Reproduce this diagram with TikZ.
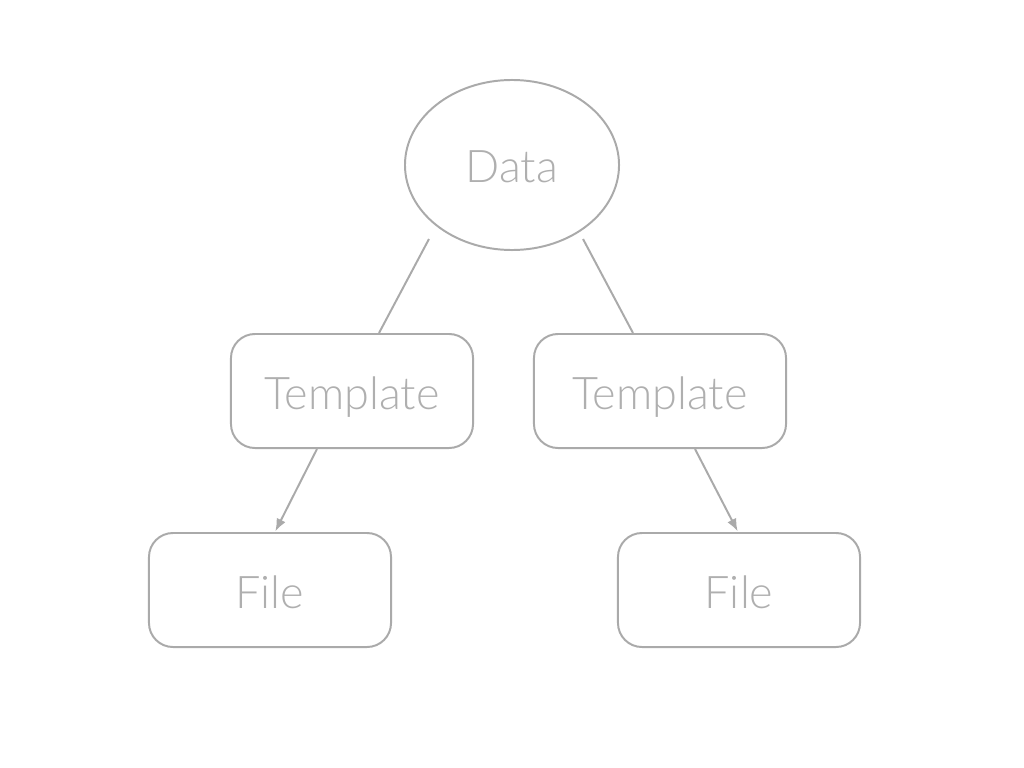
\documentclass[tikz,border=0pt]{standalone}
\usepackage{fontspec}
\setmainfont{Lato}[UprightFont={* Light}]
\usepackage{tikz}
\usepackage{xcolor}
\usetikzlibrary{shapes, positioning, arrows.meta}

\definecolor{linegray}{RGB}{170,170,170}
\definecolor{textgray}{RGB}{175,175,175}

\begin{document}
\begin{tikzpicture}[x=0.025cm, y=-0.025cm,
        box/.style={rectangle, draw=linegray, line width=1.4pt, rounded corners=0.6cm, minimum height=2.85cm, text=textgray, text height=0.9cm, text depth=0pt, font=\fontsize{32}{36}\selectfont},
        link/.style={draw=linegray, line width=1.4pt}]
        \useasboundingbox (0, 0) rectangle (1024, 768);

        \node[ellipse, draw=linegray, line width=1.4pt, minimum width=5.35cm, minimum height=4.25cm, text=textgray, text height=0.85cm, text depth=0pt, font=\fontsize{32}{36}\selectfont] (data) at (512, 165) {Data};
        \node[box, minimum width=6.05cm] (tl) at (352, 391) {Template};
        \node[box, minimum width=6.3cm] (tr) at (660, 391) {Template};
        \node[box, minimum width=6.05cm] (fl) at (270, 590) {File};
        \node[box, minimum width=6.05cm] (fr) at (739, 590) {File};

        \draw[link] ([shift={(-2.075cm, 0.3cm)}]data.south) -- ([xshift=0.675cm]tl.north);
        \draw[link] ([shift={(1.775cm, 0.3cm)}]data.south) -- ([xshift=-0.675cm]tr.north);
        \draw[link, -{Latex[length=9pt, width=7pt]}, shorten >=0.5pt] ([xshift=-0.875cm]tl.south) -- ([xshift=0.125cm]fl.north);
        \draw[link, -{Latex[length=9pt, width=7pt]}, shorten >=0.5pt] ([xshift=0.875cm]tr.south) -- ([xshift=-0.025cm]fr.north);
    \end{tikzpicture}
\end{document}
